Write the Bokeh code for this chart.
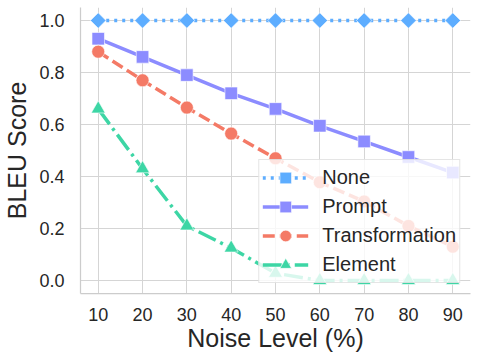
import numpy as np
from bokeh.plotting import figure
from bokeh.models import Range1d, FixedTicker, NumeralTickFormatter, Legend
from bokeh.embed import file_html
from bokeh.resources import INLINE

noise = [10, 20, 30, 40, 50, 60, 70, 80, 90]
none_vals = [1.0, 1.0, 1.0, 1.0, 1.0, 1.0, 1.0, 1.0, 1.0]
prompt_vals = [0.93, 0.86, 0.79, 0.72, 0.66, 0.595, 0.535, 0.475, 0.415]
transf_vals = [0.88, 0.77, 0.665, 0.565, 0.47, 0.378, 0.304, 0.21, 0.13]
element_vals = [0.66, 0.43, 0.21, 0.125, 0.028, 0.0, 0.0, 0.0, 0.0]

x_ticks = [10, 20, 30, 40, 50, 60, 70, 80, 90]
y_ticks = [0.0, 0.2, 0.4, 0.6, 0.8, 1.0]

FONT = "Liberation Sans"
TXT = "#262626"

p = figure(width=478, height=357, output_backend="svg", toolbar_location=None,
           x_range=Range1d(6, 94), y_range=Range1d(-0.05, 1.05),
           min_border_left=72, min_border_right=8, min_border_top=7, min_border_bottom=64)
p.outline_line_color = None
p.background_fill_color = "white"
p.border_fill_color = "white"

for ax in (p.xaxis[0], p.yaxis[0]):
    ax.axis_line_color = "#cccccc"
    ax.axis_line_width = 1.25
    ax.major_tick_line_color = None
    ax.minor_tick_line_color = None
    ax.major_label_text_font = FONT
    ax.major_label_text_font_size = "18px"
    ax.major_label_text_color = TXT
    ax.axis_label_text_font = FONT
    ax.axis_label_text_font_size = "25px"
    ax.axis_label_text_font_style = "normal"
    ax.axis_label_text_color = TXT

p.xaxis.ticker = FixedTicker(ticks=x_ticks)
p.yaxis.ticker = FixedTicker(ticks=y_ticks)
p.yaxis.formatter = NumeralTickFormatter(format="0.0")
p.xaxis.axis_label = "Noise Level (%)"
p.yaxis.axis_label = "BLEU Score"
p.xaxis.major_label_standoff = 8
p.yaxis.major_label_standoff = 10
p.xaxis.axis_label_standoff = 0
p.yaxis.axis_label_standoff = 5

p.xgrid.grid_line_color = "#d5d5d5"
p.ygrid.grid_line_color = "#d5d5d5"
p.xgrid.grid_line_width = 1
p.ygrid.grid_line_width = 1

series = [
    ("None", none_vals, "#5DADFF", "3 5", "square", 11, np.pi / 4),
    ("Prompt", prompt_vals, "#8C8CFF", "solid", "square", 12.5, 0.0),
    ("Transformation", transf_vals, "#F47A66", "12 5", "circle", 13, 0.0),
    ("Element", element_vals, "#3DD6A5", "19 5 3 5", "triangle", 14, 0.0),
]

items = []
for name, vals, color, dash, marker, size, angle in series:
    l = p.line(noise, vals, line_color=color, line_width=3.5, line_dash=dash)
    s = p.scatter(noise, vals, marker=marker, size=size, angle=angle,
                  fill_color=color, line_color="white", line_width=0.6)
    items.append((name, [l, s]))

legend = Legend(items=items, location="bottom_right")
legend.margin = 10
legend.padding = 3
legend.spacing = 0
legend.glyph_width = 46
legend.glyph_height = 29
legend.label_standoff = 14
legend.label_text_font = FONT
legend.label_text_font_size = "20px"
legend.label_text_color = TXT
legend.background_fill_color = "white"
legend.background_fill_alpha = 0.8
legend.border_line_color = "#cccccc"
legend.border_line_width = 1
p.add_layout(legend, "center")

open("out.html", "w").write(file_html(p, INLINE))
